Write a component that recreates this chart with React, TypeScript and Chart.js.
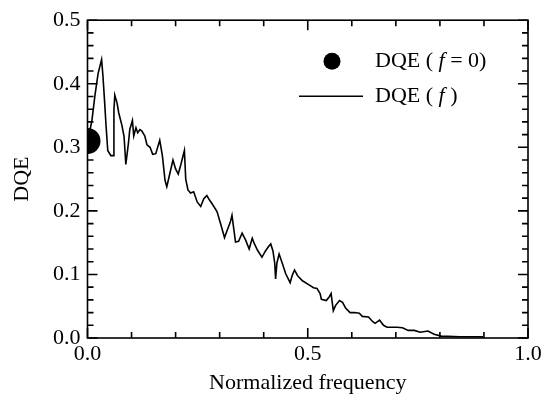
import React, { useEffect, useRef } from "react";
import { Chart, registerables } from "chart.js";

Chart.register(...registerables);

// Normalized frequency (x) and DQE(f) values
const freq = [
  0.002, 0.010, 0.017, 0.024, 0.032, 0.035, 0.039, 0.042, 0.046, 0.053,
  0.058, 0.060, 0.062, 0.067, 0.071, 0.078, 0.083, 0.087, 0.093, 0.096,
  0.102, 0.105, 0.110, 0.114, 0.119, 0.123, 0.130, 0.135, 0.142, 0.148,
  0.155, 0.164, 0.170, 0.176, 0.180, 0.186, 0.194, 0.200, 0.206, 0.212,
  0.220, 0.223, 0.228, 0.234, 0.241, 0.249, 0.257, 0.264, 0.271, 0.277,
  0.284, 0.294, 0.302, 0.311, 0.318, 0.324, 0.328, 0.332, 0.336, 0.343,
  0.351, 0.359, 0.367, 0.374, 0.379, 0.386, 0.396, 0.404, 0.411, 0.416,
  0.421, 0.425, 0.427, 0.430, 0.435, 0.442, 0.450, 0.460, 0.465, 0.470,
  0.477, 0.488, 0.502, 0.513, 0.521, 0.528, 0.531, 0.542, 0.549, 0.553,
  0.558, 0.563, 0.572, 0.579, 0.586, 0.596, 0.606, 0.617, 0.624, 0.638,
  0.647, 0.653, 0.663, 0.672, 0.680, 0.703, 0.715, 0.728, 0.742, 0.755,
  0.773, 0.787, 0.803, 0.846, 0.898,
];
const dqe = [
  0.315, 0.342, 0.382, 0.416, 0.438, 0.413, 0.370, 0.335, 0.295, 0.287,
  0.287, 0.359, 0.382, 0.370, 0.354, 0.335, 0.317, 0.273, 0.307, 0.328,
  0.342, 0.318, 0.331, 0.323, 0.328, 0.326, 0.318, 0.304, 0.300, 0.289,
  0.290, 0.311, 0.287, 0.248, 0.238, 0.256, 0.280, 0.266, 0.258, 0.273,
  0.295, 0.250, 0.233, 0.228, 0.230, 0.214, 0.207, 0.219, 0.224, 0.217,
  0.210, 0.199, 0.180, 0.158, 0.171, 0.182, 0.193, 0.172, 0.151, 0.152,
  0.165, 0.154, 0.140, 0.157, 0.148, 0.138, 0.127, 0.137, 0.144, 0.148,
  0.137, 0.118, 0.093, 0.118, 0.132, 0.118, 0.101, 0.087, 0.099, 0.107,
  0.098, 0.090, 0.084, 0.079, 0.078, 0.070, 0.061, 0.059, 0.065, 0.070,
  0.043, 0.051, 0.059, 0.056, 0.047, 0.040, 0.040, 0.039, 0.034, 0.033,
  0.026, 0.023, 0.028, 0.020, 0.017, 0.017, 0.016, 0.012, 0.012, 0.009,
  0.011, 0.006, 0.003, 0.002, 0.002,
];

// DQE at zero frequency
const zeroFreq = [0];
const zeroDqe = [0.31];

// Axis tick labels and tick-mark positions
const xTickLabels = [0, 0.5, 1.0];
const yTickLabels = [0, 0.1, 0.2, 0.3, 0.4, 0.5];
const xTickMarks = [0, 0.1, 0.2, 0.3, 0.4, 0.5, 0.6, 0.7, 0.8, 0.9, 1.0];
const yTickMarks = [
  0, 0.02, 0.04, 0.06, 0.08, 0.1, 0.12, 0.14, 0.16, 0.18, 0.2, 0.22, 0.24,
  0.26, 0.28, 0.3, 0.32, 0.34, 0.36, 0.38, 0.4, 0.42, 0.44, 0.46, 0.48, 0.5,
];

const FONT = "'Liberation Serif', 'Times New Roman', serif";
const FS = 22;

const near = (a: number, list: number[]) => list.some((v) => Math.abs(v - a) < 1e-6);

const framePlugin = {
  id: "frameTicks",
  afterDraw(chart: any) {
    const { ctx, chartArea: a, scales } = chart;
    const xs = scales.x;
    const ys = scales.y;
    ctx.save();
    ctx.strokeStyle = "#000";
    ctx.lineWidth = 1.6;
    ctx.strokeRect(a.left, a.top, a.right - a.left, a.bottom - a.top);
    ctx.beginPath();
    for (const t of xTickMarks) {
      const px = xs.getPixelForValue(t);
      const len = near(t, xTickLabels) ? 10 : 6;
      ctx.moveTo(px, a.bottom);
      ctx.lineTo(px, a.bottom - len);
      ctx.moveTo(px, a.top);
      ctx.lineTo(px, a.top + len);
    }
    for (const t of yTickMarks) {
      const py = ys.getPixelForValue(t);
      const len = near(t, yTickLabels) ? 10 : 6;
      ctx.moveTo(a.left, py);
      ctx.lineTo(a.left + len, py);
      ctx.moveTo(a.right, py);
      ctx.lineTo(a.right - len, py);
    }
    ctx.stroke();

    // legend
    const lx = a.left + 211.5;
    ctx.fillStyle = "#000";
    ctx.beginPath();
    ctx.arc(lx + 33, a.top + 41, 8.5, 0, Math.PI * 2);
    ctx.fill();
    ctx.beginPath();
    ctx.lineWidth = 1.5;
    ctx.moveTo(lx, a.top + 76);
    ctx.lineTo(lx + 64, a.top + 76);
    ctx.stroke();

    const drawParts = (parts: [string, boolean][], x: number, y: number) => {
      ctx.textBaseline = "middle";
      ctx.textAlign = "left";
      let cx = x;
      for (const [s, it] of parts) {
        ctx.font = `${it ? "italic " : ""}${FS}px ${FONT}`;
        ctx.fillText(s, cx, y);
        cx += ctx.measureText(s).width;
      }
    };
    drawParts([["DQE ( ", false], ["f", true], [" = 0)", false]], lx + 76, a.top + 41);
    drawParts([["DQE ( ", false], ["f", true], [" )", false]], lx + 76, a.top + 76);
    ctx.restore();
  },
};

export default function App() {
  const ref = useRef<HTMLCanvasElement>(null);
  useEffect(() => {
    if (!ref.current) return;
    const chart = new Chart(ref.current, {
      type: "scatter",
      data: {
        datasets: [
          {
            label: "DQE (f = 0)",
            data: zeroFreq.map((f, i) => ({ x: f, y: zeroDqe[i] })),
            pointRadius: 13,
            pointBackgroundColor: "#000",
            pointBorderWidth: 0,
            clip: 0,
            order: 0,
          } as any,
          {
            label: "DQE (f)",
            data: freq.map((f, i) => ({ x: f, y: dqe[i] })),
            showLine: true,
            borderColor: "#000",
            borderWidth: 1.6,
            pointRadius: 0,
            tension: 0,
            order: 1,
          } as any,
        ],
      },
      options: {
        animation: false,
        responsive: true,
        maintainAspectRatio: false,
        layout: { padding: { top: 16, right: 20, left: 0, bottom: 0 } },
        plugins: { legend: { display: false }, tooltip: { enabled: false } },
        scales: {
          x: {
            type: "linear",
            min: 0,
            max: 1,
            afterBuildTicks: (s: any) => {
              s.ticks = xTickLabels.map((v) => ({ value: v }));
            },
            afterFit: (s: any) => {
              s.height = 59;
            },
            ticks: {
              callback: (v: any) => Number(v).toFixed(1),
              font: { family: FONT, size: FS },
              color: "#000",
              padding: 3,
              maxRotation: 0,
            },
            grid: { display: false, drawTicks: false },
            border: { display: false },
            title: {
              display: true,
              text: "Normalized frequency",
              font: { family: FONT, size: FS },
              color: "#000",
              padding: { top: 0, bottom: 1 },
            },
          },
          y: {
            type: "linear",
            min: 0,
            max: 0.5,
            afterBuildTicks: (s: any) => {
              s.ticks = yTickLabels.map((v) => ({ value: v }));
            },
            afterFit: (s: any) => {
              s.width = 87.5;
            },
            ticks: {
              callback: (v: any) => Number(v).toFixed(1),
              font: { family: FONT, size: FS },
              color: "#000",
              padding: 7,
            },
            grid: { display: false, drawTicks: false },
            border: { display: false },
            title: {
              display: true,
              text: "DQE",
              font: { family: FONT, size: FS },
              color: "#000",
              padding: { top: 9, bottom: 0 },
            },
          },
        },
      },
      plugins: [framePlugin],
    });
    return () => chart.destroy();
  }, []);
  return (
    <div style={{ position: "absolute", left: 0, top: 0, width: 548, height: 397, background: "#fff" }}>
      <canvas ref={ref} />
    </div>
  );
}
